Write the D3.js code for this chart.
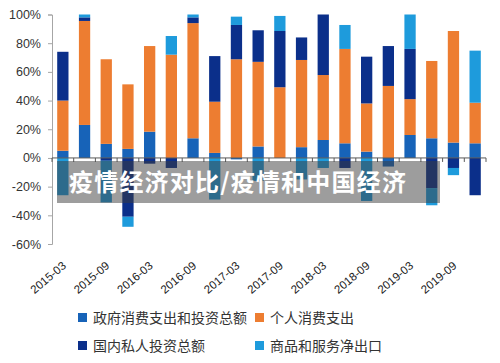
<!DOCTYPE html>
<html>
<head>
<meta charset="utf-8">
<script src="https://cdn.jsdelivr.net/npm/d3@7"></script>
<style>
  body { margin: 0; background: #fff; }
  svg { display: block; font-family: "Liberation Sans", "Noto Sans CJK SC", sans-serif; }
</style>
</head>
<body>
<script>
var w = 500;
var h = 363;

// quarterly, 2015Q1 .. 2019Q4
var quarters = ["2015-03", "2015-06", "2015-09", "2015-12", "2016-03", "2016-06", "2016-09", "2016-12",
  "2017-03", "2017-06", "2017-09", "2017-12", "2018-03", "2018-06", "2018-09", "2018-12",
  "2019-03", "2019-06", "2019-09", "2019-12"];
var tickLabels = ["2015-03", "2015-09", "2016-03", "2016-09", "2017-03", "2017-09",
  "2018-03", "2018-09", "2019-03", "2019-09"];

var seriesNames = ["政府消费支出和投资总额", "个人消费支出", "国内私人投资总额", "商品和服务净出口"];
var gov      = [5, 23, 9.8, 6.3, 18.3, 0, 13.7, 3.5, -1, 8, 0, 7.5, 12.5, 10.2, 4.4, -6, 16, 13.7, 10.7, 10.2];
var personal = [35, 72.5, 59, 45, 59.7, 72, 80.3, 35.7, 68.8, 59, 49.3, 60.8, 45.3, 65.8, 33.6, 50.2, 25, 53.9, 77.8, 28.3];
var privInv  = [34, 2.5, -2, -41, -4, -7, 4, 31.8, 23.9, 22, 39.2, 15.7, 42.2, -7, 32.6, 27.8, 35, -21, -7, -26];
var netExp   = [-26, 2, -29, -7, 0, 13, 2, -29, 5.8, -16, 10.5, -15, -7, 16.7, -30, 0, 24, -12, -5, 36.3];
var yTicks = [-60, -40, -20, 0, 20, 40, 60, 80, 100];

var colors = ["#1763b8", "#ed7d31", "#0b2f8a", "#1e9bdc"];

var table = quarters.map(function(q, i) {
  return { q: q, s0: gov[i], s1: personal[i], s2: privInv[i], s3: netExp[i] };
});

var stack = d3.stack()
  .keys(["s0", "s1", "s2", "s3"])
  .offset(d3.stackOffsetDiverging);
var layers = stack(table);

var x = d3.scaleBand()
  .domain(quarters)
  .range([52, 486])
  .paddingInner(0.48)
  .paddingOuter(0.24);

var y = d3.scaleLinear()
  .domain([-60, 100])
  .range([244, 14.5]);

var svg = d3.select("body")
  .append("svg")
  .attr("width", w)
  .attr("height", h);

// y axis
var yAxis = svg.append("g")
  .attr("transform", "translate(52,0)")
  .call(d3.axisLeft(y).tickValues(yTicks).tickSize(4).tickPadding(7)
    .tickFormat(function(d) { return d + "%"; }));
yAxis.select(".domain").attr("stroke", "#a6a6a6");
yAxis.selectAll(".tick line").attr("stroke", "#a6a6a6");
yAxis.selectAll("text").attr("font-size", "12.5px").attr("fill", "#333");

// bars
svg.selectAll("g.layer")
  .data(layers)
  .enter()
  .append("g")
  .attr("class", "layer")
  .attr("fill", function(d, i) { return colors[i]; })
  .selectAll("rect")
  .data(function(d) { return d; })
  .enter()
  .append("rect")
  .attr("x", function(d) { return x(d.data.q); })
  .attr("y", function(d) { return y(Math.max(d[0], d[1])); })
  .attr("width", x.bandwidth())
  .attr("height", function(d) { return Math.abs(y(d[0]) - y(d[1])); });

// zero line with ticks between categories
var xAxis = svg.append("g")
  .attr("transform", "translate(0," + y(0) + ")");
xAxis.append("line")
  .attr("x1", 52).attr("x2", 486)
  .attr("stroke", "#595959");
xAxis.selectAll("line.tk")
  .data(d3.range(quarters.length + 1))
  .enter()
  .append("line")
  .attr("class", "tk")
  .attr("x1", function(i) { return 52 + i * x.step(); })
  .attr("x2", function(i) { return 52 + i * x.step(); })
  .attr("y1", 0).attr("y2", 4)
  .attr("stroke", "#595959");

// category labels at the bottom
svg.selectAll("text.xl")
  .data(tickLabels)
  .enter()
  .append("text")
  .attr("class", "xl")
  .attr("transform", function(d) {
    return "translate(" + (x(d) + x.bandwidth() / 2 + 4) + ",267) rotate(-40)";
  })
  .attr("text-anchor", "end")
  .attr("font-size", "11.5px")
  .attr("fill", "#222")
  .text(function(d) { return d; });

// title band
svg.append("rect")
  .attr("x", 57).attr("y", 161)
  .attr("width", 383).attr("height", 42)
  .attr("fill", "rgba(60,60,60,0.5)");
svg.append("text")
  .attr("x", 69).attr("y", 191)
  .attr("font-family", "Noto Sans CJK SC")
  .attr("font-weight", "bold")
  .attr("font-size", "24px")
  .attr("letter-spacing", "1.2px")
  .attr("fill", "#fff")
  .text("疫情经济对比/疫情和中国经济");

// legend
var legendPos = [[78, 317], [255, 317], [78, 345], [255, 345]];
var leg = svg.selectAll("g.leg")
  .data(seriesNames)
  .enter()
  .append("g")
  .attr("class", "leg")
  .attr("transform", function(d, i) { return "translate(" + legendPos[i][0] + "," + legendPos[i][1] + ")"; });
leg.append("rect")
  .attr("x", 0).attr("y", -4)
  .attr("width", 9).attr("height", 9)
  .attr("fill", function(d, i) { return colors[i]; });
leg.append("text")
  .attr("x", 15).attr("y", 5.5)
  .attr("font-family", "Noto Sans CJK SC")
  .attr("font-size", "14px")
  .attr("fill", "#333")
  .text(function(d) { return d; });
</script>
</body>
</html>
